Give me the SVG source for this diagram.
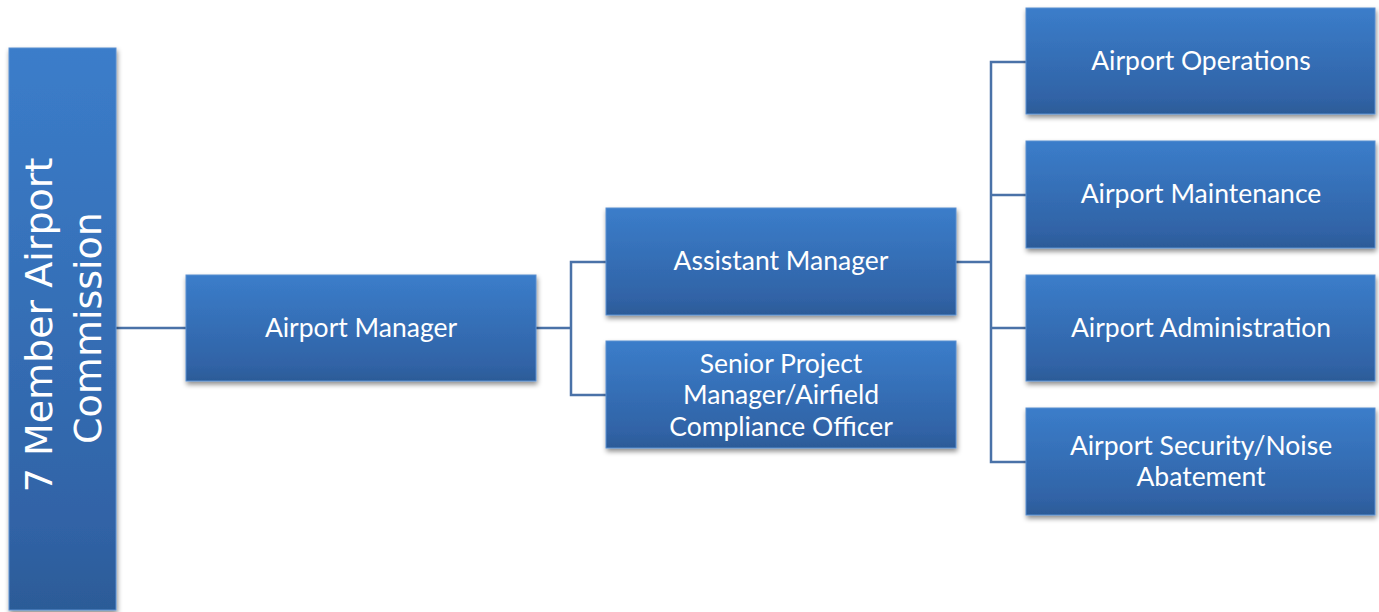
<svg xmlns="http://www.w3.org/2000/svg" width="1379" height="612" viewBox="0 0 1379 612">
<style>
.box{fill:url(#g);stroke:#5b8fd0;stroke-width:1;filter:url(#sh)}
.t{font-family:Lato,"Liberation Sans",sans-serif;font-size:26.5px;fill:#ffffff;text-anchor:middle}
.v{font-family:"DejaVu Sans",sans-serif;font-size:38px;fill:#ffffff;text-anchor:middle}
.c{fill:none;stroke:#4a72a8;stroke-width:2.5}
</style>
<defs>
<linearGradient id="g" x1="0" y1="0" x2="0" y2="1">
<stop offset="0" stop-color="#3b7dca"/>
<stop offset="0.85" stop-color="#3063a6"/>
<stop offset="1" stop-color="#2c5b97"/>
</linearGradient>
<filter id="sh" x="-10%" y="-10%" width="130%" height="140%">
<feDropShadow dx="1" dy="3" stdDeviation="2.5" flood-color="#000" flood-opacity="0.45"/>
</filter>
</defs>
<rect width="1379" height="612" fill="#ffffff"/>
<g id="connectors">
<path class="c" d="M116 328H186"/>
<path class="c" d="M536 328H571M606 262H571V395H606"/>
<path class="c" d="M956 262H991M1026 62H991V462H1026M991 195H1026M991 328H1026"/>
</g>
<g id="commission">
<rect class="box" x="9" y="48" width="107" height="562"/>
<text class="v" transform="translate(52,325) rotate(-90)">7 Member Airport</text>
<text class="v" transform="translate(101,328) rotate(-90)">Commission</text>
</g>
<g id="airport-manager">
<rect class="box" x="186" y="275" width="350" height="106"/>
<text class="t" x="361" y="337">Airport Manager</text>
</g>
<g id="assistant-manager">
<rect class="box" x="606" y="208" width="350" height="107"/>
<text class="t" x="781" y="270">Assistant Manager</text>
</g>
<g id="senior-project-manager">
<rect class="box" x="606" y="341" width="350" height="107"/>
<text class="t" x="781" y="373">Senior Project</text>
<text class="t" x="781" y="404">Manager/Airfield</text>
<text class="t" x="781" y="436">Compliance Officer</text>
</g>
<g id="airport-operations">
<rect class="box" x="1026" y="8" width="349" height="106"/>
<text class="t" x="1201" y="70">Airport Operations</text>
</g>
<g id="airport-maintenance">
<rect class="box" x="1026" y="141" width="349" height="107"/>
<text class="t" x="1201" y="203">Airport Maintenance</text>
</g>
<g id="airport-administration">
<rect class="box" x="1026" y="275" width="349" height="106"/>
<text class="t" x="1201" y="337">Airport Administration</text>
</g>
<g id="airport-security">
<rect class="box" x="1026" y="408" width="349" height="107"/>
<text class="t" x="1201" y="455">Airport Security/Noise</text>
<text class="t" x="1201" y="486">Abatement</text>
</g>
</svg>
